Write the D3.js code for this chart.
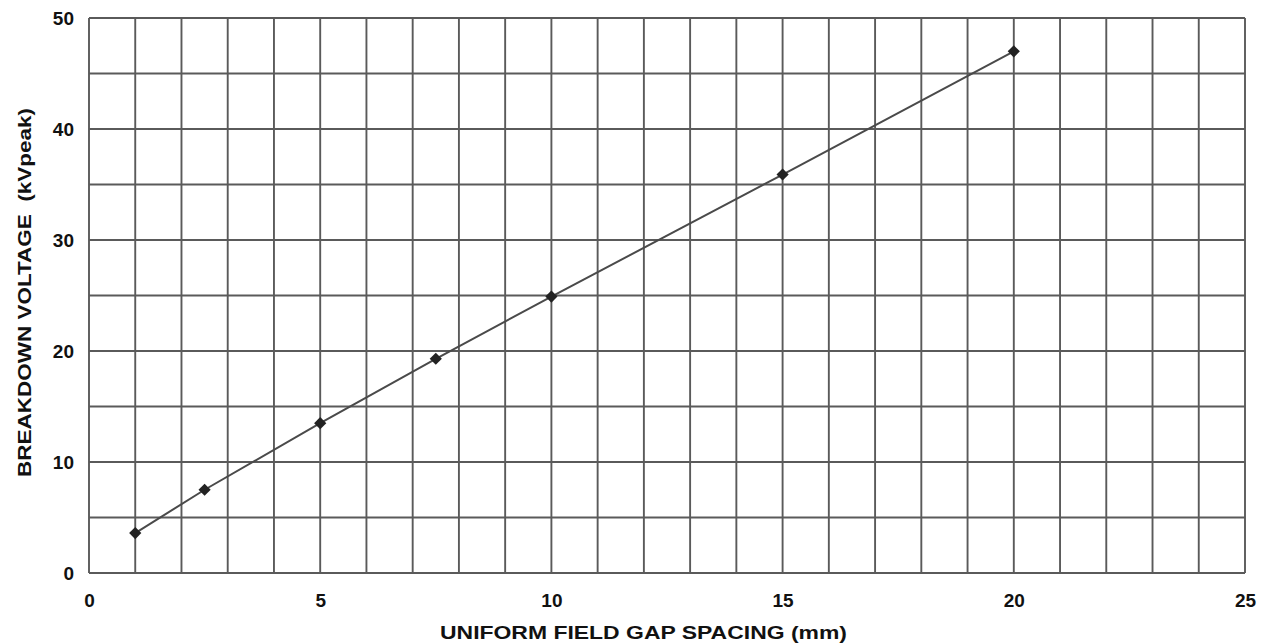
<!DOCTYPE html>
<html>
<head>
<meta charset="utf-8">
<script src="https://cdn.jsdelivr.net/npm/d3@7"></script>
<style>
  body { margin: 0; background: #fff; }
  svg text { font-family: "Liberation Sans", Arial, sans-serif; font-weight: bold; fill: #111; }
</style>
</head>
<body>
<div id="chart"></div>
<script>
/* Breakdown voltage vs gap spacing */

var gapSpacing = [1, 2.5, 5, 7.5, 10, 15, 20];
var breakdownKv = [3.6, 7.5, 13.5, 19.3, 24.9, 35.9, 47.0];
var xTicks = [0, 5, 10, 15, 20, 25];
var yTicks = [0, 10, 20, 30, 40, 50];
var xGrid = d3.range(0, 26, 1);
var yGrid = d3.range(0, 51, 5);

var w = 1267, h = 643;
var margin = { left: 89, right: 22, top: 18, bottom: 70 };

var svg = d3.select('#chart').append('svg')
    .attr('width', w).attr('height', h);

var x = d3.scaleLinear().domain([0, 25]).range([margin.left, w - margin.right]);
var y = d3.scaleLinear().domain([0, 50]).range([h - margin.bottom, margin.top]);

// Grid
var grid = svg.append('g').attr('stroke', '#5a5a5a').attr('stroke-width', 1.9);
grid.selectAll('line.v').data(xGrid).enter().append('line')
    .attr('x1', function(d) { return x(d); }).attr('x2', function(d) { return x(d); })
    .attr('y1', y(0)).attr('y2', y(50));
grid.selectAll('line.h').data(yGrid).enter().append('line')
    .attr('y1', function(d) { return y(d); }).attr('y2', function(d) { return y(d); })
    .attr('x1', x(0)).attr('x2', x(25));

// Axes (labels only)
var xAxis = svg.append('g').attr('transform', 'translate(0,' + y(0) + ')')
    .call(d3.axisBottom(x).tickValues(xTicks).tickSize(0).tickPadding(21));
xAxis.select('.domain').remove();
xAxis.selectAll('text').attr('font-size', '19px');

var yAxis = svg.append('g').attr('transform', 'translate(' + x(0) + ',0)')
    .call(d3.axisLeft(y).tickValues(yTicks).tickSize(0).tickPadding(15));
yAxis.select('.domain').remove();
yAxis.selectAll('text').attr('font-size', '19px');

// Titles
svg.append('text')
    .attr('x', 440).attr('y', 639)
    .attr('font-size', '19px')
    .attr('textLength', 407).attr('lengthAdjust', 'spacingAndGlyphs')
    .text('UNIFORM FIELD GAP SPACING (mm)');

svg.append('text')
    .attr('transform', 'translate(31,477) rotate(-90)')
    .attr('font-size', '19px')
    .attr('textLength', 369).attr('lengthAdjust', 'spacingAndGlyphs')
    .attr('xml:space', 'preserve')
    .style('white-space', 'pre')
    .text('BREAKDOWN VOLTAGE  (kVpeak)');

// Series
var pts = gapSpacing.map(function(d, i) { return [d, breakdownKv[i]]; });
var line = d3.line().x(function(d) { return x(d[0]); }).y(function(d) { return y(d[1]); });

svg.append('path').datum(pts)
    .attr('d', line)
    .attr('fill', 'none')
    .attr('stroke', '#4a4a4a')
    .attr('stroke-width', 2);

svg.append('g').selectAll('path').data(pts).enter().append('path')
    .attr('d', d3.symbol().type(d3.symbolDiamond2).size(95))
    .attr('transform', function(d) { return 'translate(' + x(d[0]) + ',' + y(d[1]) + ')'; })
    .attr('fill', '#222');
</script>
</body>
</html>
